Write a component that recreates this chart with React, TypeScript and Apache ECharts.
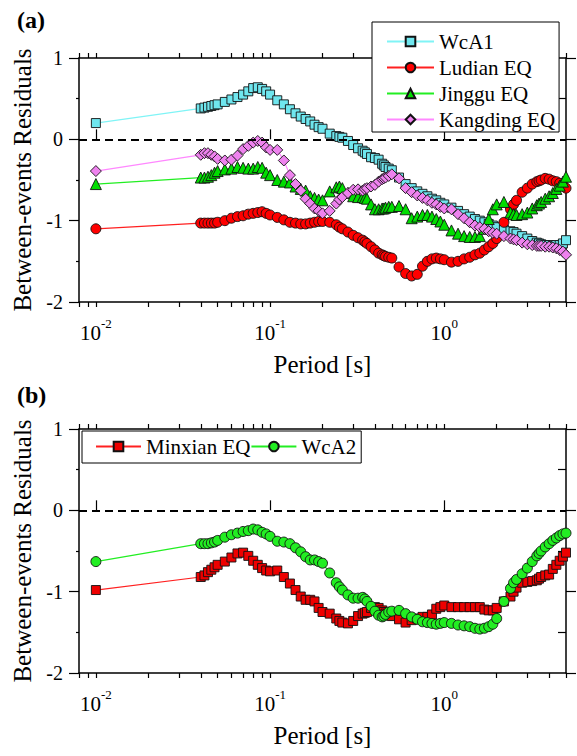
import React, { useEffect, useRef } from "react";
import * as echarts from "echarts";

const periods = [
  0.01,
  0.04, 0.042, 0.044, 0.046, 0.048, 0.05, 0.055, 0.06, 0.065, 0.07,
  0.075, 0.08, 0.085, 0.09, 0.095, 0.1, 0.11, 0.12, 0.13, 0.14,
  0.15, 0.16, 0.17, 0.18, 0.19, 0.2, 0.22, 0.24, 0.25, 0.26,
  0.28, 0.3, 0.32, 0.34, 0.35, 0.36, 0.38, 0.4, 0.42, 0.44,
  0.45, 0.46, 0.48, 0.5, 0.55, 0.6, 0.65, 0.7, 0.75, 0.8,
  0.85, 0.9, 0.95, 1.0, 1.1, 1.2, 1.3, 1.4, 1.5, 1.6,
  1.7, 1.8, 1.9, 2.0, 2.2, 2.4, 2.5, 2.6, 2.8, 3.0,
  3.2, 3.4, 3.5, 3.6, 3.8, 4.0, 4.2, 4.4, 4.6, 4.8,
  5.0,
];

const wca1 = [
  0.2,
  0.38, 0.39, 0.4, 0.41, 0.42, 0.43, 0.46, 0.49, 0.52, 0.55,
  0.59, 0.63, 0.64, 0.62, 0.59, 0.55, 0.48, 0.43, 0.37, 0.32,
  0.28, 0.25, 0.22, 0.18, 0.15, 0.13, 0.07, 0.04, 0.03, 0.02,
  -0.02, -0.07, -0.11, -0.14, -0.16, -0.18, -0.22, -0.23, -0.25, -0.3,
  -0.32, -0.34, -0.36, -0.38, -0.47, -0.55, -0.6, -0.64, -0.67, -0.7,
  -0.73, -0.75, -0.78, -0.8, -0.84, -0.88, -0.92, -0.95, -0.98, -1.0,
  -1.02, -1.04, -1.06, -1.08, -1.11, -1.13, -1.14, -1.16, -1.19, -1.22,
  -1.25, -1.27, -1.28, -1.29, -1.3, -1.3, -1.31, -1.3, -1.3, -1.28,
  -1.24,
];

const ludian = [
  -1.1,
  -1.03, -1.03, -1.03, -1.03, -1.03, -1.02, -1.0, -0.97, -0.95, -0.94,
  -0.92, -0.91, -0.9, -0.89, -0.91, -0.93, -0.96, -0.99, -1.02, -1.03,
  -1.04, -1.04, -1.03, -1.02, -1.01, -1.01, -1.02, -1.05, -1.08, -1.1,
  -1.14, -1.18, -1.21, -1.24, -1.26, -1.28, -1.32, -1.36, -1.4, -1.42,
  -1.43, -1.44, -1.45, -1.46, -1.57, -1.65, -1.68, -1.66, -1.56, -1.5,
  -1.47, -1.46, -1.47, -1.48, -1.51, -1.5, -1.47, -1.45, -1.42, -1.4,
  -1.36, -1.32, -1.28, -1.22, -1.02, -0.86, -0.8, -0.75, -0.65, -0.6,
  -0.55, -0.52, -0.51, -0.5, -0.48, -0.49, -0.51, -0.52, -0.54, -0.56,
  -0.6,
];

const jinggu = [
  -0.55,
  -0.47, -0.47, -0.46, -0.44, -0.41, -0.39, -0.37, -0.36, -0.34, -0.35,
  -0.36, -0.36, -0.34, -0.35, -0.41, -0.44, -0.5, -0.52, -0.53, -0.58,
  -0.61, -0.63, -0.7, -0.72, -0.74, -0.75, -0.64, -0.59, -0.58, -0.6,
  -0.66, -0.7, -0.71, -0.71, -0.72, -0.73, -0.8, -0.86, -0.86, -0.85,
  -0.85, -0.84, -0.83, -0.83, -0.82, -0.86, -0.97, -0.95, -0.93, -0.93,
  -0.95, -0.98, -1.01, -1.05, -1.12, -1.16, -1.19, -1.2, -1.2, -1.19,
  -1.1, -0.98, -0.86, -0.8, -0.77, -0.9, -0.92, -0.93, -0.92, -0.9,
  -0.85, -0.81, -0.79, -0.77, -0.73, -0.7, -0.66, -0.61, -0.57, -0.52,
  -0.46,
];

const kangding = [
  -0.39,
  -0.19, -0.17, -0.17, -0.19, -0.21, -0.24, -0.26, -0.25, -0.2, -0.12,
  -0.08, -0.04, -0.02, -0.04, -0.1, -0.13, -0.13, -0.26, -0.44, -0.55,
  -0.63, -0.73, -0.79, -0.85, -0.88, -0.91, -0.88, -0.79, -0.74, -0.71,
  -0.66, -0.62, -0.615, -0.63, -0.61, -0.6, -0.58, -0.56, -0.52, -0.49,
  -0.48, -0.47, -0.45, -0.43, -0.48, -0.6, -0.65, -0.69, -0.72, -0.75,
  -0.78, -0.8, -0.83, -0.85, -0.86, -0.92, -0.97, -1.02, -1.06, -1.08,
  -1.1, -1.13, -1.15, -1.16, -1.19, -1.22, -1.23, -1.24, -1.27, -1.29,
  -1.3, -1.31, -1.31, -1.31, -1.32, -1.32, -1.33, -1.34, -1.36, -1.38,
  -1.42,
];

const minxian = [
  -0.98,
  -0.82, -0.8, -0.76, -0.73, -0.7, -0.67, -0.63, -0.58, -0.53, -0.52,
  -0.56, -0.62, -0.67, -0.71, -0.74, -0.75, -0.74, -0.82, -0.9, -0.98,
  -1.06, -1.1, -1.1, -1.12, -1.2, -1.25, -1.27, -1.33, -1.36, -1.38,
  -1.39, -1.36, -1.3, -1.27, -1.26, -1.25, -1.2, -1.19, -1.2, -1.23,
  -1.25, -1.27, -1.29, -1.3, -1.34, -1.38, -1.35, -1.33, -1.31, -1.31,
  -1.28, -1.21, -1.19, -1.17, -1.19, -1.19, -1.19, -1.19, -1.19, -1.19,
  -1.22, -1.23, -1.23, -1.2, -1.12, -1.06, -1.0, -0.95, -0.89, -0.88,
  -0.87, -0.86, -0.84, -0.82, -0.8, -0.79, -0.72, -0.67, -0.62, -0.57,
  -0.52,
];

const wca2 = [
  -0.63,
  -0.41, -0.41, -0.41, -0.4, -0.39, -0.37, -0.33, -0.3, -0.28, -0.26,
  -0.25, -0.23, -0.24, -0.27, -0.29, -0.32, -0.38, -0.39, -0.41, -0.46,
  -0.51, -0.57, -0.61, -0.61, -0.63, -0.65, -0.77, -0.89, -0.94, -0.98,
  -1.04, -1.08, -1.08, -1.07, -1.09, -1.12, -1.18, -1.24, -1.29, -1.31,
  -1.3, -1.28, -1.25, -1.24, -1.23, -1.27, -1.31, -1.34, -1.37, -1.38,
  -1.39, -1.4, -1.39, -1.38, -1.39, -1.41, -1.42, -1.43, -1.45, -1.46,
  -1.45, -1.43, -1.4, -1.33, -1.12, -0.96, -0.89, -0.85, -0.78, -0.71,
  -0.63, -0.56, -0.53, -0.5, -0.45, -0.41, -0.37, -0.34, -0.31, -0.29,
  -0.28,
];

const xTickValues = [
  0.008, 0.009, 0.01, 0.02, 0.03, 0.04, 0.05, 0.06, 0.07, 0.08, 0.09, 0.1,
  0.2, 0.3, 0.4, 0.5, 0.6, 0.7, 0.8, 0.9, 1, 2, 3, 4, 5,
];
const xMajorValues = [0.01, 0.1, 1];
const yMinorValues = [-1.5, -0.5, 0.5];

const FONT = "'Liberation Serif', 'Times New Roman', serif";

const App: React.FC = () => {
  const ref = useRef<HTMLDivElement>(null);

  useEffect(() => {
    if (!ref.current) return;
    const chart = echarts.init(ref.current, undefined, { renderer: "svg" });

    const gridTops = [58, 429];
    const gridH = 244;
    const grids: any[] = [];
    gridTops.forEach((t) => {
      grids.push({ left: 79, top: t, width: 487, height: gridH, outerBoundsMode: "none" });
      grids.push({ left: 79, top: t, width: 487, height: gridH, outerBoundsMode: "none" });
    });

    const axisLineStyle = { color: "#000", width: 1.5 };
    const tickLineStyle = { color: "#000", width: 1.2 };

    const xAxes: any[] = [];
    const yAxes: any[] = [];
    [0, 1].forEach((p) => {
      const g = p * 2;
      xAxes.push({
        type: "log",
        logBase: 10,
        gridIndex: g,
        position: "bottom",
        min: 0.008,
        max: 5,
        name: "Period [s]",
        nameLocation: "middle",
        nameGap: 50,
        nameTextStyle: { fontFamily: FONT, fontSize: 25, color: "#000" },
        axisLine: { show: true, onZero: false, lineStyle: axisLineStyle },
        axisTick: { show: true, inside: false, length: 5, customValues: xTickValues, lineStyle: tickLineStyle },
        axisLabel: {
          show: true,
          customValues: xMajorValues,
          margin: 15,
          formatter: (v: number) => `{b|10}{s|${Math.round(Math.log10(v))}}`,
          rich: {
            b: { fontFamily: FONT, fontSize: 21, color: "#000", lineHeight: 26, verticalAlign: "bottom" },
            s: { fontFamily: FONT, fontSize: 13, color: "#000", lineHeight: 26, verticalAlign: "top" },
          },
        },
        splitLine: { show: false },
        minorTick: { show: false },
      });
      xAxes.push({
        type: "log",
        logBase: 10,
        gridIndex: g,
        position: "top",
        min: 0.008,
        max: 5,
        axisLine: { show: true, onZero: false, lineStyle: axisLineStyle },
        axisTick: { show: true, inside: false, length: 5, customValues: xTickValues, lineStyle: tickLineStyle },
        axisLabel: { show: false },
        splitLine: { show: false },
      });
      xAxes.push({
        type: "log",
        logBase: 10,
        gridIndex: g + 1,
        position: "top",
        min: 0.008,
        max: 5,
        axisLine: { show: false },
        axisTick: { show: true, inside: false, length: 10, customValues: xMajorValues, lineStyle: tickLineStyle },
        axisLabel: { show: false },
        splitLine: { show: false },
      });

      yAxes.push({
        type: "value",
        gridIndex: g,
        position: "left",
        min: -2,
        max: 1,
        interval: 1,
        name: "Between-events Residuals",
        nameLocation: "middle",
        nameRotate: 90,
        nameGap: 42,
        nameTextStyle: { fontFamily: FONT, fontSize: 25, color: "#000" },
        axisLine: { show: true, onZero: false, lineStyle: axisLineStyle },
        axisTick: { show: true, inside: false, length: 10, lineStyle: tickLineStyle },
        minorTick: { show: true, splitNumber: 2, length: 3, lineStyle: tickLineStyle },
        axisLabel: { show: true, fontFamily: FONT, fontSize: 20, color: "#000", margin: 16 },
        splitLine: { show: false },
        minorSplitLine: { show: false },
      });
      yAxes.push({
        type: "value",
        gridIndex: g,
        position: "right",
        min: -2,
        max: 1,
        interval: 1,
        axisLine: { show: true, onZero: false, lineStyle: axisLineStyle },
        axisTick: { show: true, inside: false, length: 10, lineStyle: tickLineStyle },
        axisLabel: { show: false },
        splitLine: { show: false },
      });
      yAxes.push({
        type: "value",
        gridIndex: g + 1,
        position: "right",
        min: -2,
        max: 1,
        axisLine: { show: false },
        axisTick: { show: true, inside: true, length: 8, customValues: yMinorValues, lineStyle: tickLineStyle },
        axisLabel: { show: false },
        splitLine: { show: false },
      });
    });

    const zeroLine = {
      silent: true,
      symbol: ["none", "none"],
      label: { show: false },
      emphasis: { disabled: true },
      lineStyle: { color: "#000", width: 2, type: [8, 5] },
      data: [{ yAxis: 0 }],
    };

    const mk = (
      name: string,
      values: number[],
      panel: number,
      symbol: string,
      size: number,
      fill: string,
      line: string,
      withZero: boolean
    ) => ({
      type: "line",
      name,
      xAxisIndex: panel * 3,
      yAxisIndex: panel * 3,
      data: periods.map((t, i) => [t, values[i]]),
      symbol,
      symbolSize: size,
      showSymbol: true,
      showAllSymbol: true,
      lineStyle: { color: line, width: 1.2 },
      itemStyle: { color: fill, borderColor: "#111", borderWidth: 0.9 },
      emphasis: { disabled: true },
      ...(withZero ? { markLine: zeroLine } : {}),
    });

    const series = [
      mk("WcA1", wca1, 0, "rect", 9, "#6fe6ee", "#80f4f6", true),
      mk("Ludian EQ", ludian, 0, "circle", 10, "#ff0000", "#ff2020", false),
      mk("Jinggu EQ", jinggu, 0, "triangle", 11, "#00dd00", "#22ee22", false),
      mk("Kangding EQ", kangding, 0, "diamond", 11, "#ee82ee", "#ff88ff", false),
      mk("Minxian EQ", minxian, 1, "rect", 9, "#ee0000", "#ff2020", true),
      mk("WcA2", wca2, 1, "circle", 10, "#22ee22", "#22ee22", false),
    ];

    const legendText = { fontFamily: FONT, fontSize: 21, color: "#000", lineHeight: 21 };

    chart.setOption({
      animation: false,
      backgroundColor: "#fff",
      title: [
        { text: "(a)", left: 17, top: 8, padding: 0, textStyle: { fontFamily: FONT, fontWeight: "bold", fontSize: 24, color: "#000" } },
        { text: "(b)", left: 17, top: 383, padding: 0, textStyle: { fontFamily: FONT, fontWeight: "bold", fontSize: 24, color: "#000" } },
      ],
      legend: [
        {
          orient: "vertical",
          left: 372,
          top: 22,
          data: ["WcA1", "Ludian EQ", "Jinggu EQ", "Kangding EQ"],
          itemWidth: 47,
          itemHeight: 12,
          itemGap: 5,
          padding: [9, 4, 2, 14],
          borderColor: "#000",
          borderWidth: 1,
          backgroundColor: "#fff",
          textStyle: legendText,
          selectedMode: false,
        },
        {
          orient: "horizontal",
          left: 82,
          top: 431,
          data: ["Minxian EQ", "WcA2"],
          itemWidth: 45,
          itemHeight: 12,
          itemGap: 0,
          padding: [5, 5, 6, 13],
          borderColor: "#000",
          borderWidth: 1,
          backgroundColor: "#fff",
          textStyle: legendText,
          selectedMode: false,
        },
      ],
      grid: grids,
      xAxis: xAxes,
      yAxis: yAxes,
      series,
    });

    return () => chart.dispose();
  }, []);

  return (
    <div
      ref={ref}
      style={{ position: "absolute", left: 0, top: 0, width: 577, height: 756, background: "#fff" }}
    />
  );
};

export default App;
